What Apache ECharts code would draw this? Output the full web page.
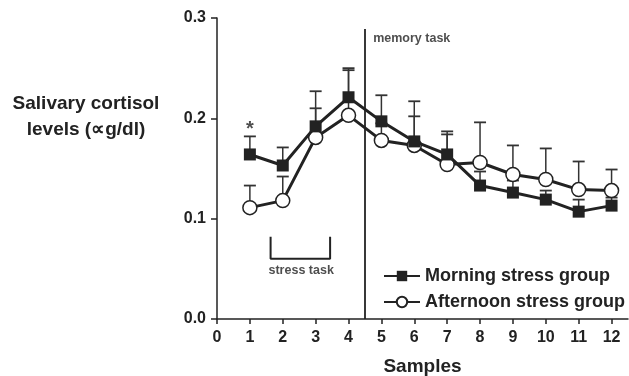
<!DOCTYPE html>
<html>
<head>
<meta charset="utf-8">
<script src="https://cdn.jsdelivr.net/npm/echarts@6/dist/echarts.min.js"></script>
<style>
  html, body { margin: 0; padding: 0; background: #fff; }
  #chart { width: 629px; height: 376px; }
</style>
</head>
<body>
<div id="chart"></div>
<script>
// sample numbers 1..12
const samples = [1, 2, 3, 4, 5, 6, 7, 8, 9, 10, 11, 12];
// mean cortisol (µg/dl)
const morning = [0.164, 0.153, 0.192, 0.221, 0.197, 0.177, 0.164, 0.133, 0.126, 0.119, 0.107, 0.113];
const afternoon = [0.111, 0.118, 0.181, 0.203, 0.178, 0.173, 0.154, 0.156, 0.144, 0.139, 0.129, 0.128];
// top of the error bars (mean + SEM)
const morningErrTop = [0.182, 0.171, 0.227, 0.250, 0.223, 0.217, 0.187, 0.147, 0.138, 0.128, 0.119, 0.121];
const afternoonErrTop = [0.133, 0.142, 0.210, 0.248, 0.195, 0.202, 0.184, 0.196, 0.173, 0.170, 0.157, 0.149];
const xTicks = [0, 1, 2, 3, 4, 5, 6, 7, 8, 9, 10, 11, 12];
const yTicks = [0, 0.1, 0.2, 0.3];
// annotations
const memoryTaskX = 4.5;
const memoryTaskTop = 0.289;
const stressBracket = [[1.63, 0.082], [1.63, 0.060], [3.44, 0.060], [3.44, 0.082]];
const stressLabelPos = [2.56, 0.048];
const starPos = [1, 0.189];

const FONT = '"Liberation Sans", Arial, Helvetica, sans-serif';
const INK = '#222';

const chart = echarts.init(document.getElementById('chart'));

function errData(means, tops) {
  return samples.map((s, i) => [s, means[i], tops[i]]);
}

// vertical bar from the mean up to mean+SEM, with a cap
function renderErr(params, api) {
  const x = api.value(0);
  const base = api.coord([x, api.value(1)]);
  const top = api.coord([x, api.value(2)]);
  const half = 6;
  return {
    type: 'group',
    children: [
      { type: 'line', shape: { x1: base[0], y1: base[1], x2: top[0], y2: top[1] }, style: { stroke: '#333', lineWidth: 1.5 } },
      { type: 'line', shape: { x1: top[0] - half, y1: top[1], x2: top[0] + half, y2: top[1] }, style: { stroke: '#333', lineWidth: 1.8 } }
    ]
  };
}

const option = {
  animation: false,
  backgroundColor: '#fff',
  textStyle: { fontFamily: FONT },
  grid: { left: 217, right: 1, top: 18, bottom: 57, outerBoundsMode: 'none', containLabel: false },
  legend: {
    orient: 'vertical',
    left: 378,
    top: 262,
    itemWidth: 36,
    itemHeight: 13,
    itemGap: 8,
    data: ['Morning stress group', 'Afternoon stress group'],
    textStyle: { fontFamily: FONT, fontSize: 18, fontWeight: 'bold', color: INK }
  },
  xAxis: {
    type: 'value',
    min: 0,
    max: 12.5,
    name: 'Samples',
    nameLocation: 'middle',
    nameGap: 38,
    nameTextStyle: { fontFamily: FONT, fontSize: 19, fontWeight: 'bold', color: INK },
    splitLine: { show: false },
    axisLine: { onZero: false, lineStyle: { color: INK, width: 1.5 } },
    axisTick: { customValues: xTicks, length: 5, lineStyle: { color: INK, width: 1.5 } },
    axisLabel: { customValues: xTicks, margin: 11, fontFamily: FONT, fontSize: 16, fontWeight: 'bold', color: INK }
  },
  yAxis: {
    type: 'value',
    min: 0,
    max: 0.3,
    interval: 0.1,
    splitLine: { show: false },
    axisLine: { show: true, onZero: false, lineStyle: { color: INK, width: 1.5 } },
    axisTick: { show: true, customValues: yTicks, length: 6, lineStyle: { color: INK, width: 1.5 } },
    axisLabel: { customValues: yTicks, margin: 11, fontFamily: FONT, fontSize: 16, fontWeight: 'bold', color: INK,
      formatter: v => v.toFixed(1) }
  },
  graphic: [
    { type: 'text', x: 86, y: 117, style: { text: 'Salivary cortisol\nlevels (∝g/dl)', fontFamily: FONT, fontSize: 19, fontWeight: 'bold', fill: INK, align: 'center', verticalAlign: 'middle', lineHeight: 26 } }
  ],
  series: [
    {
      type: 'custom',
      name: 'errA',
      renderItem: renderErr,
      data: errData(afternoon, afternoonErrTop),
      z: 1,
      silent: true
    },
    {
      type: 'custom',
      name: 'errM',
      renderItem: renderErr,
      data: errData(morning, morningErrTop),
      z: 1,
      silent: true
    },
    {
      name: 'Afternoon stress group',
      type: 'line',
      data: samples.map((s, i) => [s, afternoon[i]]),
      symbol: 'circle',
      symbolSize: 14,
      lineStyle: { color: INK, width: 3 },
      itemStyle: { color: '#fff', borderColor: INK, borderWidth: 1.5 },
      z: 3
    },
    {
      name: 'Morning stress group',
      type: 'line',
      data: samples.map((s, i) => [s, morning[i]]),
      symbol: 'rect',
      symbolSize: 12,
      lineStyle: { color: INK, width: 3 },
      itemStyle: { color: INK, borderColor: INK, borderWidth: 0 },
      z: 4,
      markLine: {
        silent: true,
        symbol: 'none',
        lineStyle: { color: INK, width: 1.8, type: 'solid' },
        label: { show: false },
        data: [[{ coord: [memoryTaskX, 0] }, { coord: [memoryTaskX, memoryTaskTop] }]]
      }
    },
    {
      name: 'stress',
      type: 'line',
      data: stressBracket,
      symbol: 'none',
      lineStyle: { color: INK, width: 2 },
      silent: true,
      z: 2
    },
    {
      name: 'notes',
      type: 'scatter',
      symbolSize: 0,
      silent: true,
      data: [
        { value: stressLabelPos, label: { formatter: 'stress task', fontSize: 12.5 } },
        { value: starPos, label: { formatter: '*', fontSize: 20 } },
        { value: [memoryTaskX + 0.25, 0.28], label: { formatter: 'memory task', fontSize: 12.5, align: 'left' } }
      ],
      label: { show: true, position: 'inside', fontFamily: FONT, fontWeight: 'bold', color: INK, align: 'center', verticalAlign: 'middle' }
    }
  ]
};

chart.setOption(option);
</script>
</body>
</html>
